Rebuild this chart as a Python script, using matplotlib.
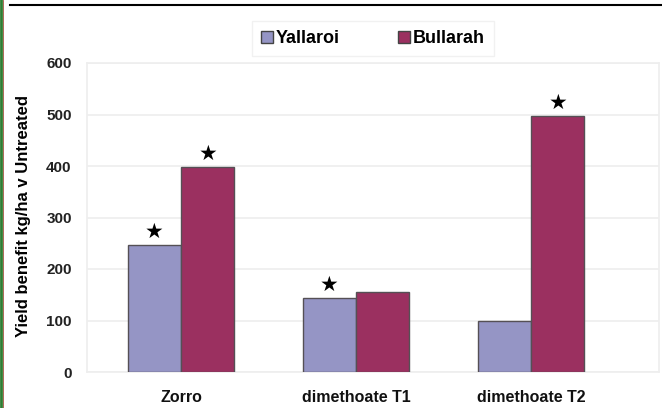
import numpy as np
import matplotlib
matplotlib.use('Agg')
import matplotlib.pyplot as plt
from matplotlib.lines import Line2D

categories = ['Zorro', 'dimethoate T1', 'dimethoate T2']
yallaroi = [247, 143, 100]
bullarah = [398, 156, 498]
# significance stars: True where a star sits above the bar
star_yallaroi = [True, True, False]
star_bullarah = [True, False, True]
yticks = [0, 100, 200, 300, 400, 500, 600]

col_y = '#9595c5'
col_b = '#9b3060'

plt.rcParams['font.family'] = ['Liberation Sans', 'DejaVu Sans']

fig = plt.figure(figsize=(6.62, 4.08), dpi=100)
W, H = 662, 408
ax = fig.add_axes([87 / W, 36 / H, (659 - 87) / W, (372 - 63) / H])

x = np.arange(len(categories))
w = 0.305
ax.bar(x - w / 2, yallaroi, w, color=col_y, edgecolor='#555055', linewidth=1.0, zorder=3)
ax.bar(x + w / 2, bullarah, w, color=col_b, edgecolor='#555055', linewidth=1.0, zorder=3)

for i in range(len(categories)):
    if star_yallaroi[i]:
        ax.text(x[i] - w / 2, yallaroi[i] + 6, '★', ha='center', va='bottom',
                fontsize=15, family='DejaVu Sans')
    if star_bullarah[i]:
        ax.text(x[i] + w / 2, bullarah[i] + 6, '★', ha='center', va='bottom',
                fontsize=15, family='DejaVu Sans')

ax.set_ylim(0, 600)
ax.set_xlim((87 - 181) / 175, (659 - 181) / 175)
ax.set_yticks(yticks)
ax.set_yticklabels([str(t) for t in yticks], fontsize=11, fontweight='bold', color='#222222')
ax.set_xticks(x)
ax.set_xticklabels(categories, fontsize=11.5, fontweight='bold', color='#111111')
ax.tick_params(axis='both', length=0)
ax.tick_params(axis='y', pad=11)
ax.tick_params(axis='x', pad=13)
ax.yaxis.grid(True, color='#eeeeee', linewidth=1.2, zorder=0)
for s in ax.spines.values():
    s.set_color('#eeeeee')
    s.set_linewidth(1.2)

ax.set_ylabel('Yield benefit kg/ha v Untreated', fontsize=12, fontweight='bold')
ax.yaxis.set_label_coords(-56 / (659 - 87), 0.505)

handles = [plt.Rectangle((0, 0), 1, 1, facecolor=col_y, edgecolor='#444444'),
           plt.Rectangle((0, 0), 1, 1, facecolor=col_b, edgecolor='#444444')]
leg = fig.legend(handles, ['Yallaroi', 'Bullarah'], loc='center',
                 bbox_to_anchor=(373 / W, 1 - 38.5 / H), ncol=2, frameon=True,
                 fancybox=False, edgecolor='#eeeeee', handlelength=0.65, handleheight=0.65,
                 handletextpad=0.2, columnspacing=3.2, borderpad=0.5, borderaxespad=0,
                 prop={'weight': 'bold', 'size': 13})

# cropped frame remnants: top rule and green left border
fig.add_artist(Line2D([10 / W, 1], [1 - 4.5 / H] * 2, color='black', linewidth=1.5))
fig.add_artist(Line2D([1.2 / W, 1.2 / W], [0, 1], color='#2e7d32', linewidth=2.0))
fig.add_artist(Line2D([3.0 / W, 3.0 / W], [0, 1], color='#a0503a', linewidth=0.6))

fig.savefig('out.png', dpi=100)
